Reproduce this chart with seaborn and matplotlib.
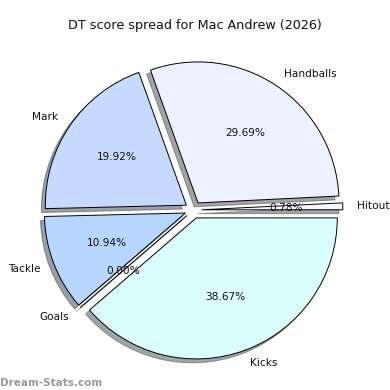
import matplotlib
matplotlib.use("Agg")
import matplotlib.pyplot as plt
import seaborn as sns

sns.set_theme(style="white")
plt.rcParams['font.family'] = ['DejaVu Sans']

categories = ["Hitout", "Handballs", "Mark", "Tackle", "Goals", "Kicks"]
values = [0.78, 29.69, 19.92, 10.94, 0.00, 38.67]
colors = ["#f4f7ff", "#ebf1ff", "#c6d9ff", "#b6d6ff", "#c0dcff", "#dbffff"]
explode = [0.06] * len(values)

fig = plt.figure(figsize=(3.9, 3.9), dpi=100)
ax = fig.add_axes([0.0437, 0.0096, 0.904, 0.904])
ax.pie(values, labels=categories, colors=colors, explode=explode,
       autopct="%1.2f%%", shadow=True, startangle=0,
       wedgeprops=dict(edgecolor="black", linewidth=0.7),
       textprops=dict(fontsize=7.6, color="#111111"))
ax.set_xlim(-1.25, 1.25)
ax.set_ylim(-1.25, 1.25)
ax.set_aspect("equal")
fig.text(0.5, 1 - 25 / 390, "DT score spread for Mac Andrew (2026)",
         fontsize=9.2, color="#111111", ha="center", va="center")
fig.text(0.0, 0.01, "Dream-Stats.com", fontsize=7.5, color="#999999", fontweight="bold")
fig.savefig("out.png", dpi=100)
